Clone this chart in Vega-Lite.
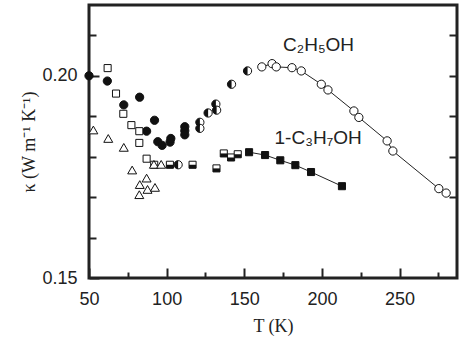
{
  "$schema": "https://vega.github.io/schema/vega-lite/v6.json",
  "autosize": "none",
  "padding": {"left": 89, "top": 5, "right": 4, "bottom": 63},
  "width": 368,
  "height": 273,
  "background": "white",
  "datasets": {
    "pts": [
      {"T": 50, "k": 0.2000, "s": "fc"},
      {"T": 61.8, "k": 0.1987, "s": "fc"},
      {"T": 72.4, "k": 0.1928, "s": "fc"},
      {"T": 82.6, "k": 0.1947, "s": "fc"},
      {"T": 87.1, "k": 0.1863, "s": "fc"},
      {"T": 92.2, "k": 0.1890, "s": "fc"},
      {"T": 94.3, "k": 0.1837, "s": "fc"},
      {"T": 97.1, "k": 0.1828, "s": "fc"},
      {"T": 102.2, "k": 0.1836, "s": "fc"},
      {"T": 102.7, "k": 0.1845, "s": "fc"},
      {"T": 111.7, "k": 0.1874, "s": "fc"},
      {"T": 111.7, "k": 0.1864, "s": "fc"},
      {"T": 111.7, "k": 0.1854, "s": "fc"},
      {"T": 107.4, "k": 0.1780, "s": "hc"},
      {"T": 121.4, "k": 0.1885, "s": "hc"},
      {"T": 121.4, "k": 0.1870, "s": "hc"},
      {"T": 126.7, "k": 0.1908, "s": "hc"},
      {"T": 131.7, "k": 0.1930, "s": "hc"},
      {"T": 132.2, "k": 0.1915, "s": "hc"},
      {"T": 141.8, "k": 0.1979, "s": "hc"},
      {"T": 152.1, "k": 0.2012, "s": "hc"},
      {"T": 161.3, "k": 0.2022, "s": "oc"},
      {"T": 167.9, "k": 0.2030, "s": "oc"},
      {"T": 170.6, "k": 0.2022, "s": "oc"},
      {"T": 180.7, "k": 0.2020, "s": "oc"},
      {"T": 186.7, "k": 0.2012, "s": "oc"},
      {"T": 199.6, "k": 0.1979, "s": "oc"},
      {"T": 203.9, "k": 0.1965, "s": "oc"},
      {"T": 220.6, "k": 0.1913, "s": "oc"},
      {"T": 223.8, "k": 0.1897, "s": "oc"},
      {"T": 242.0, "k": 0.1839, "s": "oc"},
      {"T": 245.7, "k": 0.1814, "s": "oc"},
      {"T": 275.3, "k": 0.1721, "s": "oc"},
      {"T": 280.0, "k": 0.1710, "s": "oc"},
      {"T": 62.0, "k": 0.2019, "s": "os"},
      {"T": 67.4, "k": 0.1956, "s": "os"},
      {"T": 72.1, "k": 0.1906, "s": "os"},
      {"T": 77.3, "k": 0.1878, "s": "os"},
      {"T": 82.4, "k": 0.1863, "s": "os"},
      {"T": 82.4, "k": 0.1834, "s": "os"},
      {"T": 87.1, "k": 0.1795, "s": "os"},
      {"T": 92.0, "k": 0.1780, "s": "os"},
      {"T": 102.1, "k": 0.1780, "s": "hs"},
      {"T": 116.7, "k": 0.1780, "s": "hs"},
      {"T": 132.1, "k": 0.1771, "s": "hs"},
      {"T": 136.8, "k": 0.1808, "s": "hs"},
      {"T": 141.5, "k": 0.1798, "s": "hs"},
      {"T": 145.8, "k": 0.1806, "s": "hs"},
      {"T": 153.1, "k": 0.1811, "s": "fs"},
      {"T": 163.4, "k": 0.1804, "s": "fs"},
      {"T": 173.2, "k": 0.1791, "s": "fs"},
      {"T": 182.9, "k": 0.1779, "s": "fs"},
      {"T": 193.0, "k": 0.1762, "s": "fs"},
      {"T": 212.9, "k": 0.1727, "s": "fs"},
      {"T": 52.8, "k": 0.1866, "s": "ot"},
      {"T": 62.4, "k": 0.1845, "s": "ot"},
      {"T": 72.4, "k": 0.1823, "s": "ot"},
      {"T": 77.8, "k": 0.1767, "s": "ot"},
      {"T": 82.7, "k": 0.1731, "s": "ot"},
      {"T": 87.1, "k": 0.1747, "s": "ot"},
      {"T": 87.7, "k": 0.1719, "s": "ot"},
      {"T": 82.4, "k": 0.1706, "s": "ot"},
      {"T": 92.5, "k": 0.1724, "s": "ot"},
      {"T": 91.8, "k": 0.1781, "s": "ot"},
      {"T": 96.5, "k": 0.1781, "s": "ot"}
    ],
    "labels": [
      {"T": 175, "k": 0.2076, "text": "C₂H₅OH"},
      {"T": 169.5, "k": 0.1847, "text": "1-C₃H₇OH"}
    ]
  },
  "data": {"name": "pts"},
  "config": {
    "view": {"stroke": "#222", "strokeWidth": 3},
    "axis": {
      "grid": false,
      "domain": false,
      "labelFont": "Liberation Sans",
      "labelFontSize": 18,
      "labelColor": "#222",
      "labelFlush": false,
      "titleFont": "Liberation Serif",
      "titleFontSize": 18,
      "titleFontWeight": "normal",
      "titleColor": "#222",
      "tickColor": "#222",
      "tickWidth": 2
    }
  },
  "resolve": {"axis": {"y": "independent"}},
  "layer": [
    {
      "transform": [{"filter": "datum.s === 'oc'"}],
      "mark": {"type": "line", "color": "#222", "strokeWidth": 1},
      "encoding": {
        "x": {"field": "T", "type": "quantitative", "scale": {"domain": [50, 287], "nice": false, "zero": false},
          "title": "T (K)",
          "axis": {
            "values": [50, 75, 100, 125, 150, 175, 200, 225, 250, 275],
            "labelExpr": "datum.value % 50 === 0 ? datum.label : ''",
            "tickSize": {"condition": {"test": "datum.value % 50 === 0", "value": -10}, "value": -6},
            "labelPadding": 22,
            "titlePadding": 9
          }},
        "y": {"field": "k", "type": "quantitative", "scale": {"domain": [0.15, 0.2175], "nice": false, "zero": false},
          "title": "κ (W m⁻¹ K⁻¹)",
          "axis": {
            "orient": "left",
            "values": [0.15, 0.16, 0.17, 0.18, 0.19, 0.2, 0.21],
            "format": ".2f",
            "labelExpr": "(round(datum.value*100) % 5 === 0) ? datum.label : ''",
            "tickSize": {"condition": {"test": "round(datum.value*100) % 5 === 0", "value": -10}, "value": -7},
            "labelPadding": 22,
            "titlePadding": 3
          }}
      }
    },
    {
      "transform": [{"filter": "datum.s === 'fs'"}],
      "mark": {"type": "line", "color": "#222", "strokeWidth": 1},
      "encoding": {
        "x": {"field": "T", "type": "quantitative", "scale": {"domain": [50, 287], "nice": false, "zero": false}},
        "y": {"field": "k", "type": "quantitative", "scale": {"domain": [0.15, 0.2175], "nice": false, "zero": false},
          "axis": {
            "orient": "right",
            "values": [0.17, 0.18, 0.19, 0.2, 0.21],
            "labels": false,
            "title": null,
            "tickSize": -8
          }}
      }
    },
    {
      "transform": [{"filter": "datum.s === 'fc'"}],
      "mark": {"type": "point", "shape": "circle", "filled": true, "fill": "#111", "stroke": "#111", "strokeWidth": 1, "size": 68, "opacity": 1},
      "encoding": {
        "x": {"field": "T", "type": "quantitative", "scale": {"domain": [50, 287], "nice": false, "zero": false}},
        "y": {"field": "k", "type": "quantitative", "scale": {"domain": [0.15, 0.2175], "nice": false, "zero": false}, "axis": null}
      }
    },
    {
      "transform": [{"filter": "datum.s === 'oc' || datum.s === 'hc'"}],
      "mark": {"type": "point", "shape": "circle", "filled": true, "fill": "white", "stroke": "#111", "strokeWidth": 1, "size": 68, "opacity": 1},
      "encoding": {
        "x": {"field": "T", "type": "quantitative", "scale": {"domain": [50, 287], "nice": false, "zero": false}},
        "y": {"field": "k", "type": "quantitative", "scale": {"domain": [0.15, 0.2175], "nice": false, "zero": false}, "axis": null}
      }
    },
    {
      "transform": [{"filter": "datum.s === 'hc'"}],
      "mark": {"type": "point", "shape": "M0,-1A1,1,0,0,0,0,1Z", "filled": true, "fill": "#111", "strokeWidth": 0, "size": 68, "opacity": 1},
      "encoding": {
        "x": {"field": "T", "type": "quantitative", "scale": {"domain": [50, 287], "nice": false, "zero": false}},
        "y": {"field": "k", "type": "quantitative", "scale": {"domain": [0.15, 0.2175], "nice": false, "zero": false}, "axis": null}
      }
    },
    {
      "transform": [{"filter": "datum.s === 'os' || datum.s === 'hs'"}],
      "mark": {"type": "point", "shape": "square", "filled": true, "fill": "white", "stroke": "#111", "strokeWidth": 1, "size": 50, "opacity": 1},
      "encoding": {
        "x": {"field": "T", "type": "quantitative", "scale": {"domain": [50, 287], "nice": false, "zero": false}},
        "y": {"field": "k", "type": "quantitative", "scale": {"domain": [0.15, 0.2175], "nice": false, "zero": false}, "axis": null}
      }
    },
    {
      "transform": [{"filter": "datum.s === 'hs'"}],
      "mark": {"type": "point", "shape": "M-1,0L1,0L1,1L-1,1Z", "filled": true, "fill": "#111", "strokeWidth": 0, "size": 50, "opacity": 1},
      "encoding": {
        "x": {"field": "T", "type": "quantitative", "scale": {"domain": [50, 287], "nice": false, "zero": false}},
        "y": {"field": "k", "type": "quantitative", "scale": {"domain": [0.15, 0.2175], "nice": false, "zero": false}, "axis": null}
      }
    },
    {
      "transform": [{"filter": "datum.s === 'fs'"}],
      "mark": {"type": "point", "shape": "square", "filled": true, "fill": "#111", "stroke": "#111", "strokeWidth": 1, "size": 50, "opacity": 1},
      "encoding": {
        "x": {"field": "T", "type": "quantitative", "scale": {"domain": [50, 287], "nice": false, "zero": false}},
        "y": {"field": "k", "type": "quantitative", "scale": {"domain": [0.15, 0.2175], "nice": false, "zero": false}, "axis": null}
      }
    },
    {
      "transform": [{"filter": "datum.s === 'ot'"}],
      "mark": {"type": "point", "shape": "triangle-up", "filled": true, "fill": "white", "stroke": "#111", "strokeWidth": 1, "size": 80, "opacity": 1},
      "encoding": {
        "x": {"field": "T", "type": "quantitative", "scale": {"domain": [50, 287], "nice": false, "zero": false}},
        "y": {"field": "k", "type": "quantitative", "scale": {"domain": [0.15, 0.2175], "nice": false, "zero": false}, "axis": null}
      }
    },
    {
      "data": {"name": "labels"},
      "mark": {"type": "text", "align": "left", "baseline": "middle", "font": "Liberation Sans", "fontSize": 19, "color": "#222"},
      "encoding": {
        "x": {"field": "T", "type": "quantitative", "scale": {"domain": [50, 287], "nice": false, "zero": false}},
        "y": {"field": "k", "type": "quantitative", "scale": {"domain": [0.15, 0.2175], "nice": false, "zero": false}, "axis": null},
        "text": {"field": "text"}
      }
    }
  ]
}
